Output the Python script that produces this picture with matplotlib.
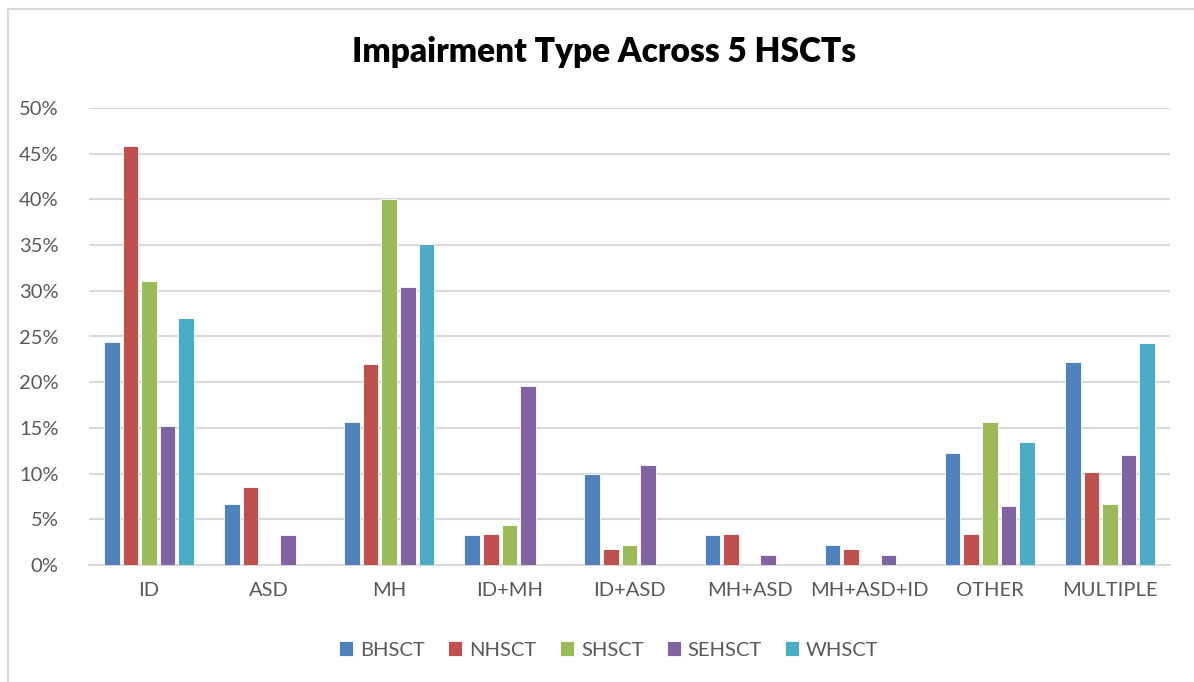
import matplotlib.pyplot as plt
import numpy as np
from matplotlib.lines import Line2D
from matplotlib.ticker import FuncFormatter, MultipleLocator

plt.rcParams['font.family'] = ['Lato', 'DejaVu Sans']

categories = ["ID", "ASD", "MH", "ID+MH", "ID+ASD", "MH+ASD", "MH+ASD+ID", "OTHER", "MULTIPLE"]
series = ["BHSCT", "NHSCT", "SHSCT", "SEHSCT", "WHSCT"]

bhsct = [24.4, 6.7, 15.6, 3.3, 10.0, 3.3, 2.2, 12.2, 22.2]
nhsct = [45.8, 8.5, 22.0, 3.4, 1.7, 3.4, 1.7, 3.4, 10.2]
shsct = [31.1, 0.0, 40.0, 4.4, 2.2, 0.0, 0.0, 15.6, 6.7]
sehsct = [15.2, 3.3, 30.4, 19.6, 10.9, 1.1, 1.1, 6.5, 12.0]
whsct = [27.0, 0.0, 35.1, 0.0, 0.0, 0.0, 0.0, 13.5, 24.3]

colors = ["#4F81BD", "#C0504D", "#9BBB59", "#8064A2", "#4BACC6"]
text_grey = "#595959"
grid_grey = "#D9D9D9"

fig = plt.figure(figsize=(11.94, 6.82), dpi=100)
ax = fig.add_axes([89 / 1194, 1 - 565 / 682, (1170 - 89) / 1194, (565 - 108) / 682])

x = np.arange(len(categories))
pitch = 0.155
width = 0.13
for i, (name, vals) in enumerate(zip(series, [bhsct, nhsct, shsct, sehsct, whsct])):
    ax.bar(x + (i - 2) * pitch, np.array(vals) / 100, width, color=colors[i],
           edgecolor="white", linewidth=0.6, label=name, zorder=3)

ax.set_xlim(-0.5, len(categories) - 0.5)
ax.set_ylim(0, 0.5)
ax.yaxis.set_major_locator(MultipleLocator(0.05))
ax.yaxis.set_major_formatter(FuncFormatter(lambda v, _: f"{v * 100:.0f}%"))
ax.grid(True, axis="y", color=grid_grey, linewidth=1.5, zorder=0)
ax.set_axisbelow(True)
for s in ["top", "right", "left"]:
    ax.spines[s].set_visible(False)
ax.spines["bottom"].set_color(grid_grey)
ax.spines["bottom"].set_linewidth(1.5)
ax.set_xticks(x)
ax.set_xticklabels(categories)
ax.tick_params(axis="both", length=0, labelsize=14.5, colors=text_grey, pad=12)
ax.tick_params(axis="y", pad=22)

fig.text(604 / 1194, 1 - 52 / 682, "Impairment Type Across 5 HSCTs",
         ha="center", va="center", fontsize=24, fontweight="heavy", color="black")

ax.legend(loc="center", bbox_to_anchor=(609 / 1194, 1 - 650 / 682),
          bbox_transform=fig.transFigure, ncol=5, frameon=False,
          fontsize=14.5, labelcolor=text_grey, handlelength=0.7, handleheight=0.7,
          handletextpad=0.35, columnspacing=1.15)

# chart frame
fig.add_artist(Line2D([8 / 1194, 8 / 1194], [0, 1 - 9 / 682], color=grid_grey, linewidth=1.5))
fig.add_artist(Line2D([8 / 1194, 1193 / 1194], [1 - 9 / 682, 1 - 9 / 682], color=grid_grey, linewidth=1.5))

fig.savefig("out.png", dpi=100)
